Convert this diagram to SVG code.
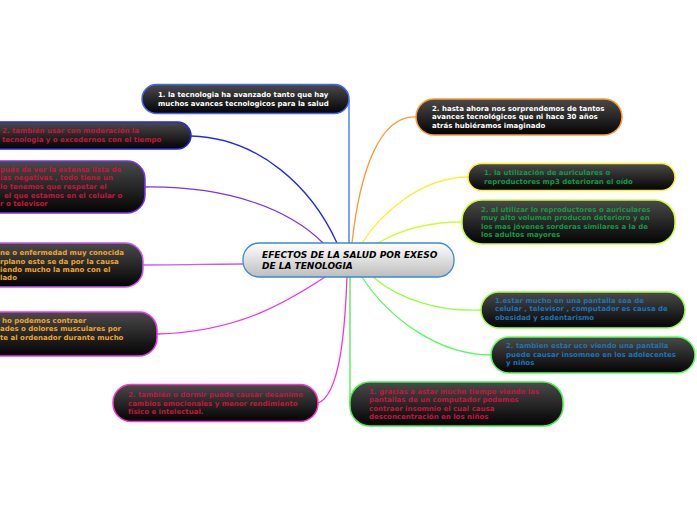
<svg xmlns="http://www.w3.org/2000/svg" width="697" height="520" viewBox="0 0 697 520">
<defs>
<linearGradient id="dark" x1="0" y1="0" x2="0" y2="1">
<stop offset="0" stop-color="#4a4a4a"/>
<stop offset="1" stop-color="#030303"/>
</linearGradient>
<linearGradient id="light" x1="0" y1="0" x2="0" y2="1">
<stop offset="0" stop-color="#ffffff"/>
<stop offset="1" stop-color="#bdbdbd"/>
</linearGradient>
<style>
.n{fill:url(#dark);stroke-width:1.5}
.t{font-family:"DejaVu Sans",Verdana,sans-serif;font-size:7px;font-weight:bold}
.w{fill:#ffffff}
.r{fill:#c8143e}
.o{fill:#f0a52a}
.g{fill:#129a45}
.b{fill:#1c74b8}
.c{font-family:"DejaVu Sans",Verdana,sans-serif;font-size:9px;font-weight:bold;font-style:italic;fill:#000}
#links path{fill:none;stroke-width:1.3}
</style>
</defs>
<rect width="697" height="520" fill="#ffffff"/>
<g id="links">
<path d="M349 100 L349 243" stroke="#3f66ff"/>
<path d="M191 136 C260 138 312 188 337 243" stroke="#2626ee"/>
<path d="M145 187 C230 186 290 210 323 243" stroke="#7a33ee"/>
<path d="M143 265 C180 265 215 264 243 264" stroke="#cc55ff"/>
<path d="M157 334 C240 332 290 300 325 277" stroke="#ee33ee"/>
<path d="M318 403 C340 395 345 330 347 277" stroke="#ff33cc"/>
<path d="M350 277 L350 404" stroke="#44ee44"/>
<path d="M416 117 C380 115 360 170 352 243" stroke="#ff9933"/>
<path d="M468 177 C420 177 380 215 362 243" stroke="#ffee33"/>
<path d="M462 222 C430 222 400 230 378 243" stroke="#ccff33"/>
<path d="M481 310 C440 312 400 300 373 277" stroke="#99ff44"/>
<path d="M491 355 C440 355 390 320 362 277" stroke="#55ff55"/>
</g>
<g id="center">
<rect x="243" y="243" width="211" height="34" rx="16" fill="url(#light)" stroke="#3a8ad0" stroke-width="1.3"/>
<text class="c" x="262" y="258">EFECTOS DE LA SALUD POR EXESO</text>
<text class="c" x="262" y="268.5">DE LA TENOLOGIA</text>
</g>
<g id="n1">
<rect class="n" x="142" y="84.5" width="207" height="29" rx="14.5" stroke="#4466ff"/>
<text class="t w" x="158" y="97">1. la tecnologia ha avanzado tanto que hay</text>
<text class="t w" x="158" y="105.5">muchos avances tecnologicos para la salud</text>
</g>
<g id="n2">
<rect class="n" x="-30" y="122" width="221" height="27" rx="13.5" stroke="#2626ee"/>
<text class="t r" x="2" y="133">2. también usar con moderación la</text>
<text class="t r" x="2" y="142">tecnologia y o excedernos con el tiempo</text>
</g>
<g id="n3">
<rect class="n" x="-30" y="161" width="175" height="52" rx="18" stroke="#7a33ee"/>
<text class="t r" x="0" y="172">pués de ver la extensa lista de</text>
<text class="t r" x="0" y="180">ias negativas , todo tiene un</text>
<text class="t r" x="0" y="189">lo tenemos que respetar el</text>
<text class="t r" x="4" y="197.5">el que estamos en el celular o</text>
<text class="t r" x="0" y="206">r o televisor</text>
</g>
<g id="n4">
<rect class="n" x="-30" y="243" width="173" height="44" rx="18" stroke="#cc55ff"/>
<text class="t o" x="0" y="255">ne o enfermedad muy conocida</text>
<text class="t o" x="0" y="263.5">rplano este se da por la causa</text>
<text class="t o" x="0" y="271.5">iendo mucho la mano con el</text>
<text class="t o" x="0" y="280">lado</text>
</g>
<g id="n5">
<rect class="n" x="-30" y="312" width="187" height="44" rx="18" stroke="#ee33ee"/>
<text class="t o" x="2" y="322.5">ho podemos contraer</text>
<text class="t o" x="0" y="331">ades o dolores musculares por</text>
<text class="t o" x="0" y="339.5">te al ordenador durante mucho</text>
</g>
<g id="n6">
<rect class="n" x="113" y="384.5" width="205" height="37" rx="18" stroke="#ff33cc"/>
<text class="t r" x="128" y="397">2. también o dormir puede causar desanimo</text>
<text class="t r" x="128" y="405.5">cambios emocionales y menor rendimiento</text>
<text class="t r" x="128" y="414">físico e intelectual.</text>
</g>
<g id="n7">
<rect class="n" x="350" y="382" width="213" height="44" rx="20" stroke="#44ee44"/>
<text class="t r" x="369" y="393.5">1. gracias a estar mucho tiempo viendo las</text>
<text class="t r" x="369" y="402">pantallas de un computador podemos</text>
<text class="t r" x="369" y="410.5">contraer insomnio el cual causa</text>
<text class="t r" x="369" y="419">desconcentración en los niños</text>
</g>
<g id="n8">
<rect class="n" x="416" y="99" width="206" height="36" rx="18" stroke="#ff9933"/>
<text class="t w" x="432" y="111">2. hasta ahora nos sorprendemos de tantos</text>
<text class="t w" x="432" y="119">avances  tecnológicos que ni hace 30 años</text>
<text class="t w" x="432" y="128">atrás hubiéramos imaginado</text>
</g>
<g id="n9">
<rect class="n" x="468" y="163.5" width="207" height="27" rx="13.5" stroke="#ffee33"/>
<text class="t g" x="484" y="175">1. la utilización de auriculares o</text>
<text class="t g" x="484" y="183.5">reproductores mp3 deterioran el oído</text>
</g>
<g id="n10">
<rect class="n" x="462" y="200" width="213" height="44" rx="20" stroke="#ccff33"/>
<text class="t g" x="481" y="211.5">2. al utilizar lo reproductores o auriculares</text>
<text class="t g" x="481" y="220">muy alto volumen producen deterioro y en</text>
<text class="t g" x="481" y="228.5">los mas jóvenes sorderas similares a la de</text>
<text class="t g" x="481" y="237">los adultos mayores</text>
</g>
<g id="n11">
<rect class="n" x="481" y="292" width="204" height="36" rx="18" stroke="#99ff44"/>
<text class="t b" x="495" y="302.5">1.estar mucho en una pantalla sea de</text>
<text class="t b" x="495" y="311">celular , televisor , computador es causa de</text>
<text class="t b" x="495" y="319.5">obesidad y sedentarismo</text>
</g>
<g id="n12">
<rect class="n" x="491" y="337" width="204" height="36" rx="18" stroke="#55ff55"/>
<text class="t b" x="506" y="348">2. tambien estar uco viendo una pantalla</text>
<text class="t b" x="506" y="356.5">puede causar insomneo en los adolecentes</text>
<text class="t b" x="506" y="365">y niños</text>
</g>
</svg>
